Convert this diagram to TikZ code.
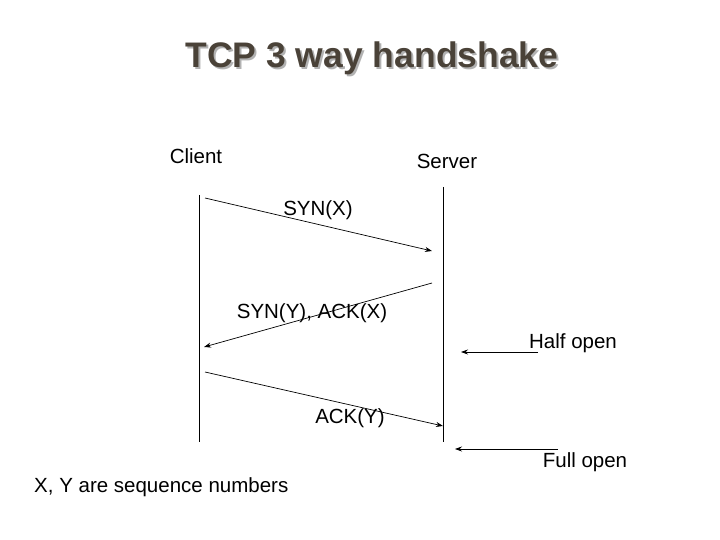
\documentclass[tikz,border=0pt]{standalone}
\usepackage{fontspec}
\setmainfont{Liberation Sans}
\usetikzlibrary{arrows.meta, positioning}

\definecolor{titlegray}{HTML}{4A4238}
\newcommand{\shadowtext}[1]{\makebox[0pt][l]{\hspace{2pt}\raisebox{-2pt}{\color{black!30}#1}}#1}

\begin{document}
\begin{tikzpicture}[
    x=1pt, y=-1pt,
    lbl/.style={font=\fontsize{20.5}{24}\selectfont, inner sep=0pt},
    life/.style={line width=0.8pt},
    msg/.style={-{Stealth[length=7pt, width=5pt]}, line width=0.7pt},
    ttl/.style={font=\fontsize{35.5}{42}\bfseries\selectfont, inner sep=0pt, text=titlegray}
  ]
    \useasboundingbox (0,0) rectangle (720,540);
    % title with its shadow
    \node[ttl] (title) at (372,59) {\shadowtext{TCP 3 way handshake}};

    \node[lbl] (client) at (196,156) {Client};
    \node[lbl] (server) at (447,161) {Server};

    % life lines
    \coordinate (ctop) at (199,195);
    \coordinate (cbot) at (199,442);
    \coordinate (stop) at (443,187);
    \coordinate (sbot) at (443,442);
    \draw[life] (ctop) -- (cbot);
    \draw[life] (stop) -- (sbot);

    % messages
    \coordinate (m1a) at (205,198);
    \coordinate (m1b) at (432,251);
    \coordinate (m2a) at (432,283);
    \coordinate (m2b) at (204,347);
    \coordinate (m3a) at (205,372);
    \coordinate (m3b) at (443,426);
    \draw[msg] (m1a) -- (m1b);
    \draw[msg] (m2a) -- (m2b);
    \draw[msg] (m3a) -- (m3b);
    \node[lbl] (syn) at (318,210) {SYN(X)};
    \node[lbl] (synack) at (312,313) {SYN(Y), ACK(X)};
    \node[lbl] (ack) at (350,418) {ACK(Y)};

    % states
    \node[lbl] (half) at (573,343) {Half open};
    \coordinate (h1) at (538,352);
    \coordinate (h2) at (461,352);
    \draw[msg] (h1) -- (h2);
    \node[lbl] (full) at (585,462) {Full open};
    \coordinate (f1) at (558,449);
    \coordinate (f2) at (455,449);
    \draw[msg] (f1) -- (f2);

    \node[lbl, anchor=west] (note) at (34,487) {X, Y are sequence numbers};
  \end{tikzpicture}
\end{document}
